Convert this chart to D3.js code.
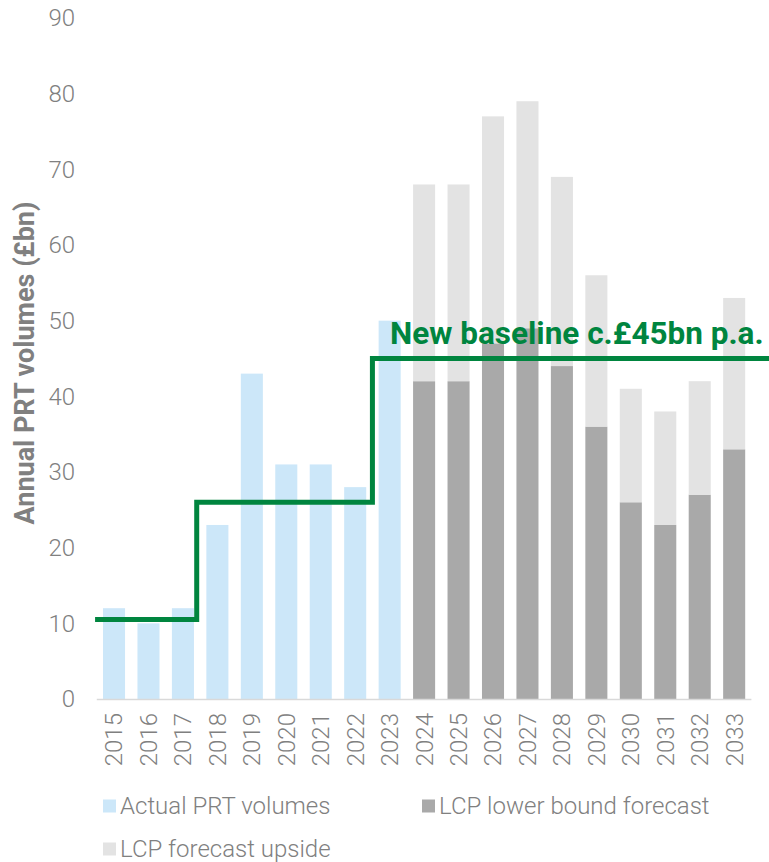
<!DOCTYPE html>
<html>
<head>
<meta charset="utf-8">
<script src="https://cdn.jsdelivr.net/npm/d3@7"></script>
<style>
  html, body { margin: 0; padding: 0; background: #ffffff; }
  svg { display: block; font-family: Roboto, "Open Sans", sans-serif; }
</style>
</head>
<body>
<svg id="chart" width="769" height="862"></svg>
<script>
// Years on the category axis
const years = ["2015","2016","2017","2018","2019","2020","2021","2022","2023",
               "2024","2025","2026","2027","2028","2029","2030","2031","2032","2033"];

// Actual PRT volumes (£bn), 2015-2023
const actual = [12, 10, 12, 23, 43, 31, 31, 28, 50, null, null, null, null, null, null, null, null, null, null];

// LCP lower bound forecast (£bn), 2024-2033
const lowerBound = [null, null, null, null, null, null, null, null, null, 42, 42, 47, 49, 44, 36, 26, 23, 27, 33];

// LCP forecast upside on top of the lower bound (£bn)
const upside = [null, null, null, null, null, null, null, null, null, 26, 26, 30, 30, 25, 20, 15, 15, 15, 20];

// Baseline step levels (£bn) and where each level starts/ends (in year units)
const baselineLevels = [10.5, 26, 45];
const baselineBreaks = [2014.45, 2017.4, 2022.5, 2034.8];

const yTicks = [0, 10, 20, 30, 40, 50, 60, 70, 80, 90];

const legendItems = ["Actual PRT volumes", "LCP lower bound forecast", "LCP forecast upside"];

const colors = {
  actual: "#cce7f9",
  lower: "#a9a9a9",
  upside: "#e3e3e3",
  green: "#00853f",
  text: "#808080",
  axis: "#d9d9d9"
};

const svg = d3.select("#chart");

const x = d3.scaleBand()
  .domain(years)
  .range([96.8, 751.4])
  .paddingInner(0.36)
  .paddingOuter(0.18);

// Continuous year scale aligned with the band centres, used for the step line
const xYear = d3.scaleLinear()
  .domain([2014.5, 2033.5])
  .range([96.8, 751.4]);

const y = d3.scaleLinear()
  .domain([0, 90])
  .range([699, 18]);

// Y tick labels
svg.append("g")
  .selectAll("text")
  .data(yTicks)
  .join("text")
  .attr("x", 75)
  .attr("y", d => y(d))
  .attr("dy", "0.35em")
  .attr("text-anchor", "end")
  .attr("font-size", 24)
  .attr("font-weight", 300)
  .attr("fill", colors.text)
  .text(d => d);

// Y axis title
svg.append("text")
  .attr("transform", "translate(34,363) rotate(-90)")
  .attr("text-anchor", "middle")
  .attr("font-size", 27)
  .attr("font-weight", 700)
  .attr("fill", colors.text)
  .text("Annual PRT volumes (£bn)");

const bars = svg.append("g");

// Actual volumes
bars.selectAll("rect.actual")
  .data(years.map((yr, i) => ({ yr, v: actual[i] })).filter(d => d.v != null))
  .join("rect")
  .attr("class", "actual")
  .attr("x", d => x(d.yr))
  .attr("width", x.bandwidth())
  .attr("y", d => y(d.v))
  .attr("height", d => y(0) - y(d.v))
  .attr("fill", colors.actual);

// Lower bound forecast
bars.selectAll("rect.lower")
  .data(years.map((yr, i) => ({ yr, v: lowerBound[i] })).filter(d => d.v != null))
  .join("rect")
  .attr("class", "lower")
  .attr("x", d => x(d.yr))
  .attr("width", x.bandwidth())
  .attr("y", d => y(d.v))
  .attr("height", d => y(0) - y(d.v))
  .attr("fill", colors.lower);

// Upside stacked on the lower bound
bars.selectAll("rect.upside")
  .data(years.map((yr, i) => ({ yr, base: lowerBound[i], v: upside[i] })).filter(d => d.v != null))
  .join("rect")
  .attr("class", "upside")
  .attr("x", d => x(d.yr))
  .attr("width", x.bandwidth())
  .attr("y", d => y(d.base + d.v))
  .attr("height", d => y(d.base) - y(d.base + d.v))
  .attr("fill", colors.upside);

// Category axis baseline
svg.append("line")
  .attr("x1", x.range()[0])
  .attr("x2", x.range()[1])
  .attr("y1", y(0) + 0.5)
  .attr("y2", y(0) + 0.5)
  .attr("stroke", colors.axis)
  .attr("stroke-width", 1.5);

// X tick labels, rotated
svg.append("g")
  .selectAll("text")
  .data(years)
  .join("text")
  .attr("transform", d => `translate(${x(d) + x.bandwidth() / 2},713) rotate(-90)`)
  .attr("dy", "0.35em")
  .attr("text-anchor", "end")
  .attr("font-size", 24)
  .attr("font-weight", 300)
  .attr("fill", colors.text)
  .text(d => d);

// Baseline step line
const stepPoints = [];
baselineLevels.forEach((lvl, i) => {
  stepPoints.push([baselineBreaks[i], lvl]);
  stepPoints.push([baselineBreaks[i + 1], lvl]);
});
svg.append("path")
  .datum(stepPoints)
  .attr("d", d3.line().x(d => xYear(d[0])).y(d => y(d[1])))
  .attr("fill", "none")
  .attr("stroke", colors.green)
  .attr("stroke-width", 5)
  .attr("stroke-linejoin", "miter");

// Annotation
svg.append("text")
  .attr("x", 390)
  .attr("y", 344)
  .attr("font-size", 31.5)
  .attr("font-weight", 700)
  .attr("fill", colors.green)
  .text("New baseline c.£45bn p.a.");

// Legend
const legendPos = [[103, 806], [422, 806], [103, 849]];
const legendColors = [colors.actual, colors.lower, colors.upside];
const legend = svg.append("g");
legendItems.forEach((name, i) => {
  const [lx, ly] = legendPos[i];
  legend.append("rect")
    .attr("x", lx)
    .attr("y", ly - 6.5)
    .attr("width", 13)
    .attr("height", 13)
    .attr("fill", legendColors[i]);
  legend.append("text")
    .attr("x", lx + 17)
    .attr("y", ly)
    .attr("dy", "0.35em")
    .attr("font-size", 24)
    .attr("font-weight", 300)
    .attr("fill", colors.text)
    .text(name);
});
</script>
</body>
</html>
